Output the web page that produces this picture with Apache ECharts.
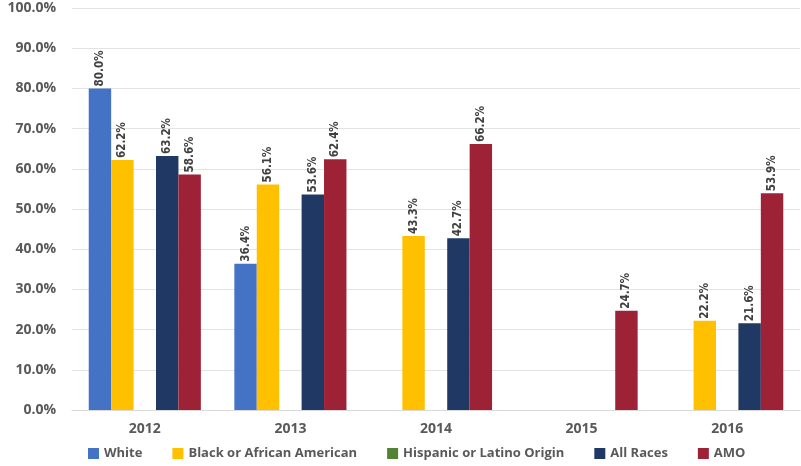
<!DOCTYPE html>
<html>
<head>
<meta charset="utf-8">
<script src="https://cdn.jsdelivr.net/npm/echarts@6/dist/echarts.min.js"></script>
<style>
  html, body { margin: 0; padding: 0; background: #fff; }
  #chart { width: 801px; height: 466px; }
</style>
</head>
<body>
<div id="chart"></div>
<script>
// Rates by year and group (percent); null = no value reported
const years = ['2012', '2013', '2014', '2015', '2016'];
const white = [80.0, 36.4, null, null, null];
const black = [62.2, 56.1, 43.3, null, 22.2];
const hispanic = [null, null, null, null, null];
const allRaces = [63.2, 53.6, 42.7, null, 21.6];
const amo = [58.6, 62.4, 66.2, 24.7, 53.9];

const seriesDefs = [
  { name: 'White', data: white, color: '#4472C4' },
  { name: 'Black or African American', data: black, color: '#FFC000' },
  { name: 'Hispanic or Latino Origin', data: hispanic, color: '#548235' },
  { name: 'All Races', data: allRaces, color: '#203864' },
  { name: 'AMO', data: amo, color: '#9E2236' }
];

const chart = echarts.init(document.getElementById('chart'));
chart.setOption({
  animation: false,
  grid: { left: 72, right: 1, top: 8, bottom: 56 },
  legend: {
    bottom: 1,
    left: 83,
    itemWidth: 11,
    itemHeight: 11,
    itemGap: 30,
    icon: 'rect',
    textStyle: { color: '#595959', fontWeight: 'bold', fontSize: 13, fontFamily: 'Open Sans, DejaVu Sans, sans-serif' },
    data: seriesDefs.map(s => s.name)
  },
  xAxis: {
    type: 'category',
    data: years,
    axisLine: { lineStyle: { color: '#D9D9D9', width: 1 } },
    axisTick: { show: false },
    axisLabel: { color: '#595959', fontWeight: 'bold', fontSize: 14, margin: 12, fontFamily: 'Open Sans, DejaVu Sans, sans-serif' }
  },
  yAxis: {
    type: 'value',
    min: 0,
    max: 100,
    interval: 10,
    axisLine: { show: false },
    axisTick: { show: false },
    splitLine: { lineStyle: { color: '#E3E3E3', width: 1 } },
    axisLabel: {
      color: '#595959', fontWeight: 'bold', fontSize: 14, margin: 16,
      fontFamily: 'Open Sans, DejaVu Sans, sans-serif',
      formatter: v => v.toFixed(1) + '%'
    }
  },
  series: seriesDefs.map(s => ({
    name: s.name,
    type: 'bar',
    data: s.data,
    barGap: 0,
    barCategoryGap: '23%',
    itemStyle: { color: s.color },
    label: {
      show: true,
      position: 'top',
      rotate: 90,
      align: 'left',
      verticalAlign: 'middle',
      distance: 2,
      color: '#404040',
      fontSize: 11.5,
      fontWeight: 'bold',
      fontFamily: 'Liberation Sans Narrow, DejaVu Sans Condensed, sans-serif',
      formatter: p => p.value == null ? '' : p.value.toFixed(1) + '%'
    }
  }))
});
</script>
</body>
</html>
